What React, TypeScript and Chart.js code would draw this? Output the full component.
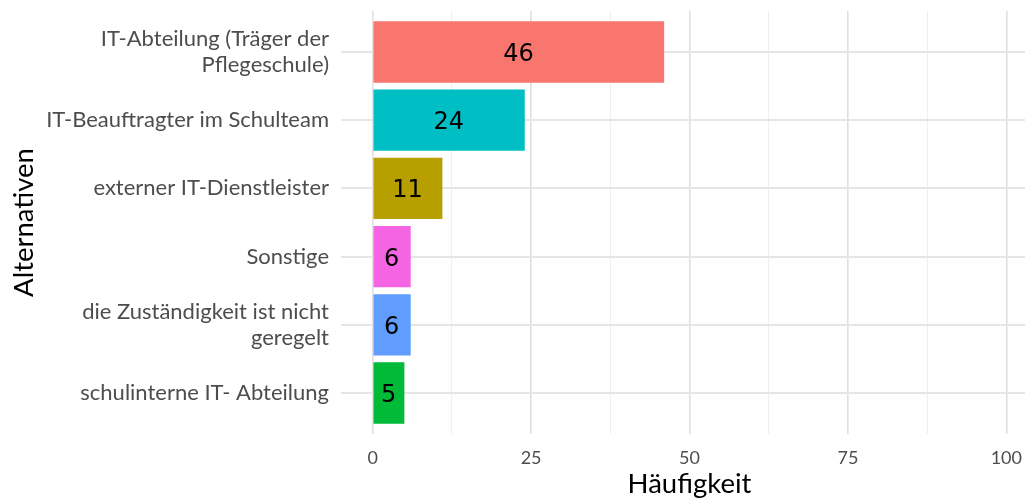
import React, { useEffect, useRef } from "react";
import { Chart, registerables } from "chart.js";

Chart.register(...registerables);

const categories: string[][] = [
  ["IT-Abteilung (Träger der", "Pflegeschule)"],
  ["IT-Beauftragter im Schulteam"],
  ["externer IT-Dienstleister"],
  ["Sonstige"],
  ["die Zuständigkeit ist nicht", "geregelt"],
  ["schulinterne IT- Abteilung"],
];
const counts: number[] = [46, 24, 11, 6, 6, 5];
const colors: string[] = ["#F8766D", "#00BFC4", "#B79F00", "#F564E3", "#619CFF", "#00BA38"];
const xTicks: number[] = [0, 12.5, 25, 37.5, 50, 62.5, 75, 87.5, 100];
const xTitle = "Häufigkeit";
const yTitle = "Alternativen";

const FONT = "Lato";

const valueLabels = {
  id: "valueLabels",
  afterDatasetsDraw(chart: any) {
    const ctx = chart.ctx;
    const meta = chart.getDatasetMeta(0);
    const xs = chart.scales.x;
    ctx.save();
    ctx.font = "24px 'DejaVu Sans'";
    ctx.fillStyle = "#000000";
    ctx.textAlign = "center";
    ctx.textBaseline = "alphabetic";
    meta.data.forEach((el: any, i: number) => {
      const v = counts[i];
      const px = xs.getPixelForValue(v / 2);
      ctx.fillText(String(v), px, el.y + 9);
    });
    ctx.restore();
  },
};

export default function App() {
  const ref = useRef<HTMLCanvasElement | null>(null);
  useEffect(() => {
    if (!ref.current) return;
    const chart = new Chart(ref.current, {
      type: "bar",
      data: {
        datasets: [
          {
            data: counts.map((c, i) => ({ x: c, y: i })),
            backgroundColor: colors,
            borderWidth: 0,
            barPercentage: 0.9,
            categoryPercentage: 1,
          },
        ],
      },
      options: {
        indexAxis: "y",
        animation: false,
        responsive: false,
        layout: { padding: { top: 11, right: 2, left: 0, bottom: 0 } },
        plugins: { legend: { display: false }, tooltip: { enabled: false } },
        scales: {
          x: {
            type: "linear",
            min: -5,
            max: 105,
            offset: false,
            afterBuildTicks: (s: any) => {
              s.ticks = xTicks.map((v) => ({ value: v }));
            },
            afterFit: (s: any) => {
              s.height = 65;
              s.paddingLeft = 0;
              s.paddingRight = 0;
            },
            ticks: {
              autoSkip: false,
              maxRotation: 0,
              padding: 13,
              color: "#4d4d4d",
              font: { family: FONT, size: 18 },
              callback: (v: any) => (Number(v) % 25 === 0 ? String(v) : ""),
            },
            grid: {
              offset: false,
              drawTicks: false,
              color: (c: any) => (c.tick && c.tick.value % 25 === 0 ? "#e0e0e0" : "#efefef"),
              lineWidth: (c: any) => (c.tick && c.tick.value % 25 === 0 ? 1.6 : 1),
            },
            border: { display: false },
            title: {
              display: true,
              text: xTitle,
              color: "#000000",
              font: { family: FONT, size: 27.5, lineHeight: 1.05 },
              padding: { top: 0, bottom: 0 },
            },
          },
          y: {
            type: "linear",
            reverse: true,
            min: -0.6,
            max: 5.6,
            offset: false,
            afterBuildTicks: (s: any) => {
              s.ticks = categories.map((_, i) => ({ value: i }));
            },
            afterFit: (s: any) => {
              s.width = 341;
              s.paddingTop = 0;
              s.paddingBottom = 0;
            },
            ticks: {
              autoSkip: false,
              padding: 12,
              color: "#4d4d4d",
              font: { family: FONT, size: 22, lineHeight: 1.18 },
              callback: (v: any) => categories[Number(v)],
            },
            grid: {
              offset: false,
              drawTicks: false,
              color: "#e6e6e6",
              lineWidth: 2,
            },
            border: { display: false },
            title: {
              display: true,
              text: yTitle,
              color: "#000000",
              font: { family: FONT, size: 27.5, lineHeight: 1.2 },
              padding: { top: 8, bottom: 0 },
            },
          },
        },
      },
      plugins: [valueLabels],
    } as any);
    return () => chart.destroy();
  }, []);
  return (
    <div
      style={{
        position: "fixed",
        left: 0,
        top: 0,
        width: 1025,
        height: 499,
        overflow: "hidden",
        background: "#ffffff",
      }}
    >
      <canvas ref={ref} width={1040} height={499} style={{ width: 1040, height: 499, display: "block" }} />
    </div>
  );
}
